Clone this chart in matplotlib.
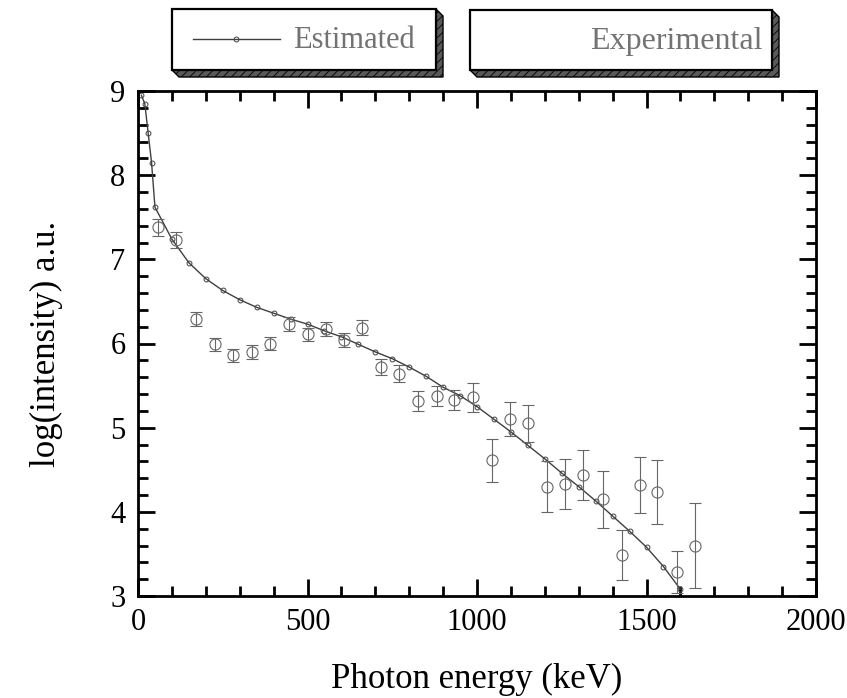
'''
    Estimated vs experimental photon spectrum

    python3 plot.py
'''

import matplotlib
matplotlib.use('Agg')
import matplotlib.pyplot as plt
from matplotlib.patches import Rectangle, Polygon
from matplotlib.ticker import MultipleLocator


# estimated curve
est_energy = [10, 20, 30, 40, 50, 100, 150, 200, 250, 300, 350, 400, 450, 500,
              550, 600, 650, 700, 750, 800, 850, 900, 950, 1000, 1050, 1100,
              1150, 1200, 1250, 1300, 1350, 1400, 1450, 1500, 1550, 1600]
est_logint = [8.95, 8.85, 8.50, 8.15, 7.62, 7.24, 6.96, 6.77, 6.63, 6.52, 6.43,
              6.36, 6.29, 6.23, 6.15, 6.08, 5.99, 5.90, 5.82, 5.72, 5.61, 5.48,
              5.38, 5.25, 5.10, 4.95, 4.79, 4.63, 4.46, 4.30, 4.13, 3.95, 3.77,
              3.58, 3.35, 3.08]

# experimental points
exp_energy = [60, 113, 170, 227, 281, 335, 389, 446, 500, 555, 609, 660, 717,
              770, 827, 881, 932, 987, 1044, 1097, 1150, 1206, 1260, 1314, 1371,
              1427, 1481, 1532, 1589, 1643]
exp_logint = [7.38, 7.23, 6.29, 5.99, 5.86, 5.90, 6.00, 6.23, 6.11, 6.17, 6.04,
              6.19, 5.72, 5.64, 5.32, 5.38, 5.33, 5.36, 4.61, 5.10, 5.05, 4.30,
              4.33, 4.44, 4.15, 3.49, 4.32, 4.23, 3.28, 3.60]
exp_err = [0.10, 0.10, 0.08, 0.08, 0.08, 0.08, 0.08, 0.08, 0.08, 0.08, 0.08,
           0.09, 0.09, 0.10, 0.12, 0.12, 0.12, 0.17, 0.26, 0.20, 0.22, 0.30,
           0.30, 0.30, 0.34, 0.30, 0.33, 0.38, 0.25, 0.50]

xticks = [0, 500, 1000, 1500, 2000]
yticks = [3, 4, 5, 6, 7, 8, 9]

W, H = 847, 698
SERIF = 'Liberation Serif'


def px(x, y):
    # pixel (top-left origin) -> figure fraction
    return x / W, 1 - y / H


def LegendBox(fig, x0, y0, x1, y1, d=7):
    shadow = Polygon([px(x0, y1), px(x0 + d, y1 + d), px(x1 + d, y1 + d),
                      px(x1 + d, y0 + d), px(x1, y0), px(x1, y1)],
                     closed=True, transform=fig.transFigure,
                     facecolor='0.35', edgecolor='black', lw=1, hatch='////')
    fig.patches.append(shadow)
    bx, by = px(x0, y1)
    box = Rectangle((bx, by), (x1 - x0) / W, (y1 - y0) / H,
                    transform=fig.transFigure, facecolor='white',
                    edgecolor='black', lw=1.6)
    fig.patches.append(box)


def main():
    plt.rcParams['hatch.color'] = '0.75'
    plt.rcParams['hatch.linewidth'] = 0.6

    fig = plt.figure(figsize=(W / 100, H / 100), dpi=100)
    ax = fig.add_axes([138 / W, 1 - 596 / H, (816 - 138) / W, (596 - 91) / H])

    ax.plot(est_energy, est_logint, '-o', color='0.25', lw=1,
            markersize=3.5, markerfacecolor='none', markeredgewidth=0.7)
    ax.errorbar(exp_energy, exp_logint, yerr=exp_err, fmt='o', color='0.4',
                markersize=8, markerfacecolor='none', markeredgewidth=0.8,
                elinewidth=0.8, capsize=4, capthick=0.8)

    ax.set_xlim(0, 2000)
    ax.set_ylim(3, 9)
    ax.set_xticks(xticks)
    ax.set_yticks(yticks)
    ax.xaxis.set_minor_locator(MultipleLocator(100))
    ax.yaxis.set_minor_locator(MultipleLocator(0.2))

    ax.tick_params(which='both', direction='in', top=True, right=True,
                   width=2, labelsize=22, pad=9)
    ax.tick_params(which='major', length=12)
    ax.tick_params(which='minor', length=7)
    for lab in ax.get_xticklabels() + ax.get_yticklabels():
        lab.set_fontfamily(SERIF)
    for sp in ax.spines.values():
        sp.set_linewidth(2)

    ax.set_xlabel('Photon energy (keV)', fontsize=25, family=SERIF, labelpad=18)
    ax.set_ylabel('log(intensity) a.u.', fontsize=25, family=SERIF, labelpad=34)

    # legend boxes
    LegendBox(fig, 172, 9, 436, 70)
    LegendBox(fig, 470, 10, 772, 70)

    lx0, ly = px(193, 39)
    lx1, _ = px(280, 39)
    fig.lines.append(plt.Line2D([lx0, lx1], [ly, ly], transform=fig.transFigure,
                                color='0.25', lw=1))
    mx, _ = px(236, 39)
    fig.lines.append(plt.Line2D([mx], [ly], transform=fig.transFigure,
                                marker='o', markersize=3.5, color='0.25',
                                markerfacecolor='none', markeredgewidth=0.7))
    tx, ty = px(293, 40)
    fig.text(tx, ty, 'Estimated', fontsize=22, family=SERIF, color='0.45',
             ha='left', va='center')
    tx, ty = px(763, 41)
    fig.text(tx, ty, 'Experimental', fontsize=23, family=SERIF, color='0.45',
             ha='right', va='center')

    fig.savefig('out.png', dpi=100)


if __name__ == '__main__':
    main()
